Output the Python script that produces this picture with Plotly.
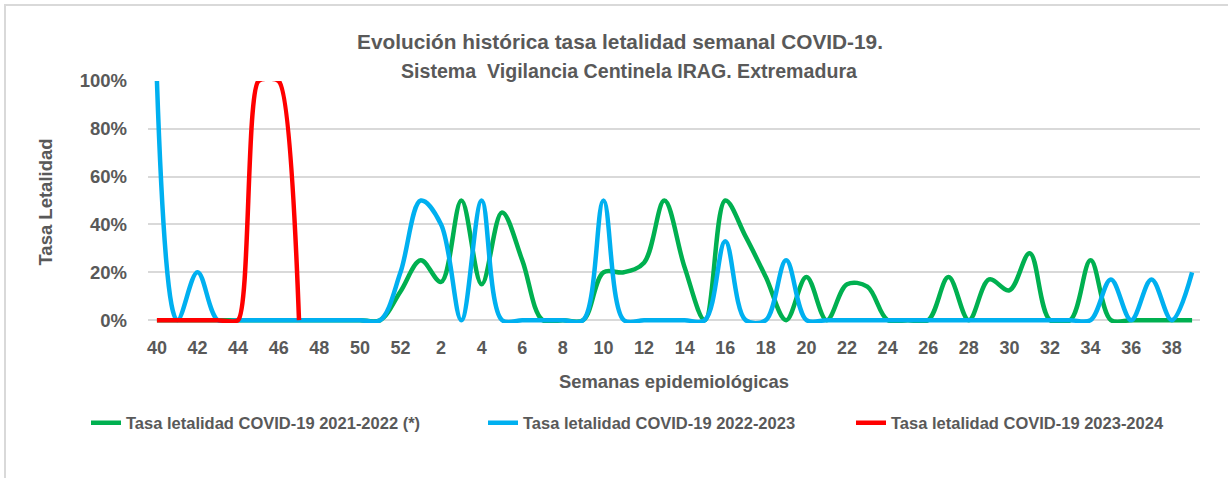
import plotly.graph_objects as go

weeks = [str(w) for w in list(range(40, 53)) + list(range(1, 40))]

green_2021_2022 = [0, 0, 0, 0, 0, 0, 0, 0, 0, 0, 0, 0, 0.12,
                   0.25, 0.16, 0.50, 0.15, 0.45, 0.25, 0, 0, 0, 0.20, 0.20, 0.24,
                   0.50, 0.22, 0, 0.50, 0.35, 0.18, 0, 0.18, 0, 0.15, 0.14, 0,
                   0, 0, 0.18, 0, 0.17, 0.125, 0.28, 0, 0, 0.25, 0, 0, 0, 0, 0]

blue_2022_2023 = [1.00, 0, 0.20, 0, 0, 0, 0, 0, 0, 0, 0, 0, 0.20,
                  0.50, 0.40, 0, 0.50, 0, 0, 0, 0, 0, 0.50, 0, 0,
                  0, 0, 0, 0.33, 0, 0, 0.25, 0, 0, 0, 0, 0,
                  0, 0, 0, 0, 0, 0, 0, 0, 0, 0, 0.17, 0, 0.17, 0, 0.20]

red_2023_2024 = [0, 0, 0, 0, 0, 1.00, 1.00, 0]

names = ["Tasa letalidad COVID-19 2021-2022 (*)",
         "Tasa letalidad COVID-19 2022-2023",
         "Tasa letalidad COVID-19 2023-2024"]
colors = ["#00B050", "#00B0F0", "#FF0000"]
smooth = [1.0, 1.0, 0.6]

tick_labels = weeks[::2]

TXT = "#595959"
FONT = "Liberation Sans"

fig = go.Figure()
series = [green_2021_2022, blue_2022_2023, red_2023_2024]
legends = ["legend", "legend2", "legend3"]
for vals, name, col, lg, sm in zip(series, names, colors, legends, smooth):
    fig.add_trace(go.Scatter(
        x=weeks[:len(vals)], y=vals, name=name, mode="lines",
        line=dict(color=col, width=4.5, shape="spline", smoothing=sm),
        legend=lg, showlegend=True,
    ))

L, R, T, B = 148, 28, 81, 155
W, H = 1228, 478
pw = W - L - R
ph = H - T - B

def px_x(p):
    return (p - L) / pw

def px_y(p):
    return (H - B - p) / ph

legend_font = dict(family=FONT, size=16.5, color=TXT, weight="bold")
common_leg = dict(orientation="h", yanchor="middle", xanchor="left",
                  xref="container", yref="container",
                  font=legend_font, bgcolor="rgba(0,0,0,0)", itemwidth=30)

fig.update_layout(
    width=W, height=H,
    margin=dict(l=L, r=R, t=T, b=B, autoexpand=False),
    paper_bgcolor="white", plot_bgcolor="white",
    font=dict(family=FONT, color=TXT),
    title=dict(text="Evolución histórica tasa letalidad semanal COVID-19.",
               x=620 / W, xanchor="center", xref="container",
               y=1 - 42 / H, yanchor="middle", yref="container",
               font=dict(family=FONT, size=20.8, color=TXT, weight="bold")),
    xaxis=dict(type="category", categoryorder="array", categoryarray=weeks,
               range=[-0.44, 51.39], tickmode="array", tickvals=tick_labels,
               ticktext=tick_labels, showgrid=False, zeroline=False,
               showline=False, ticks="", ticklabelstandoff=12, automargin=False,
               tickfont=dict(family=FONT, size=18, color=TXT, weight="bold"),
               title=dict(text="Semanas epidemiológicas", standoff=18,
                          font=dict(family=FONT, size=18.4, color=TXT, weight="bold"))),
    yaxis=dict(range=[-0.012, 1.0], tickmode="array",
               tickvals=[0, 0.2, 0.4, 0.6, 0.8, 1.0], tickformat=".0%",
               showgrid=True, gridcolor="#D9D9D9", gridwidth=1.5, automargin=False,
               zeroline=False, showline=False, ticks="", ticklabelstandoff=20,
               tickfont=dict(family=FONT, size=18.5, color=TXT, weight="bold"),
               title=dict(text="Tasa Letalidad", standoff=22,
                          font=dict(family=FONT, size=18.5, color=TXT, weight="bold"))),
    legend=dict(x=86 / W, y=1 - 423 / H, **common_leg),
    legend2=dict(x=483 / W, y=1 - 423 / H, **common_leg),
    legend3=dict(x=851 / W, y=1 - 423 / H, **common_leg),
    annotations=[dict(text="Sistema &nbsp;Vigilancia Centinela IRAG. Extremadura",
                      xref="paper", yref="paper", x=px_x(629), y=px_y(71),
                      xanchor="center", yanchor="middle", showarrow=False,
                      font=dict(family=FONT, size=19.6, color=TXT, weight="bold"))],
    shapes=[dict(type="rect", xref="paper", yref="paper",
                 x0=px_x(5), x1=px_x(1300), y0=px_y(600), y1=px_y(5),
                 line=dict(color="#D9D9D9", width=2), layer="below")],
)

fig.write_html("out.html",
               config={"displayModeBar": False},
               post_script="document.body.style.margin='0';"
                           "document.body.style.overflow='hidden';")
